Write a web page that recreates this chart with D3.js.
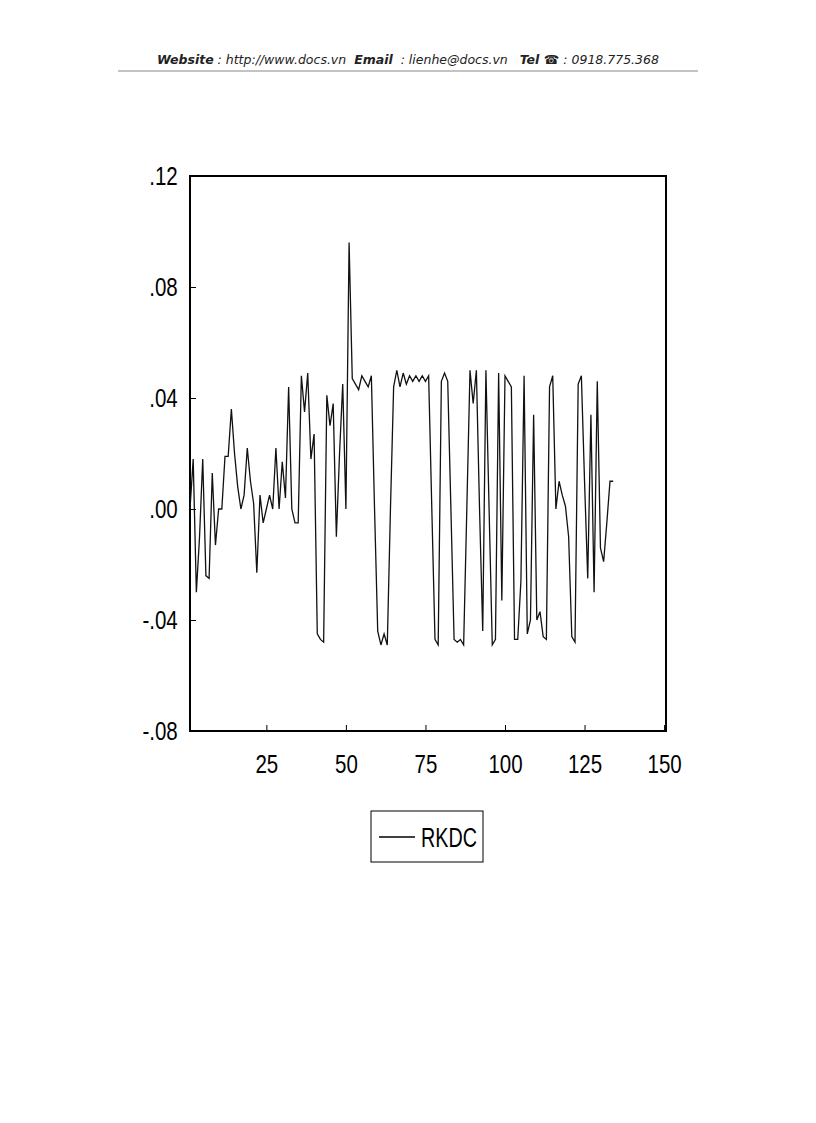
<!DOCTYPE html>
<html><head><meta charset="utf-8">
<script src="https://cdn.jsdelivr.net/npm/d3@7"></script>
<style>body{margin:0;background:#fff}</style>
</head><body>
<script>
const rkdc = [
  0.000, 0.018, -0.030, -0.010, 0.018, -0.024, -0.025, 0.013, -0.013, 0.000,
  0.000, 0.019, 0.019, 0.036, 0.020, 0.008, 0.000, 0.005, 0.022, 0.010,
  0.002, -0.023, 0.005, -0.005, 0.000, 0.005, 0.000, 0.022, 0.000, 0.017,
  0.004, 0.044, 0.000, -0.005, -0.005, 0.048, 0.035, 0.049, 0.018, 0.027,
  -0.045, -0.047, -0.048, 0.041, 0.030, 0.038, -0.010, 0.020, 0.045, 0.000,
  0.096, 0.047, 0.045, 0.043, 0.048, 0.046, 0.044, 0.048, 0.000, -0.044,
  -0.049, -0.045, -0.049, 0.000, 0.044, 0.050, 0.044, 0.049, 0.045, 0.048,
  0.046, 0.048, 0.046, 0.048, 0.046, 0.048, 0.000, -0.047, -0.049, 0.046,
  0.049, 0.046, 0.000, -0.047, -0.048, -0.047, -0.049, 0.000, 0.050, 0.038,
  0.050, 0.000, -0.044, 0.050, 0.000, -0.049, -0.047, 0.049, -0.033, 0.048,
  0.046, 0.044, -0.047, -0.047, -0.026, 0.048, -0.045, -0.040, 0.034, -0.040,
  -0.037, -0.046, -0.047, 0.044, 0.048, 0.000, 0.010, 0.005, 0.001, -0.010,
  -0.046, -0.048, 0.045, 0.048, 0.010, -0.025, 0.034, -0.030, 0.046, -0.014,
  -0.019, -0.005, 0.010, 0.010
];
const xTicks = [25, 50, 75, 100, 125, 150];
const yTicks = [-0.08, -0.04, 0.00, 0.04, 0.08, 0.12];

const svg = d3.select('body').append('svg').attr('width', 816).attr('height', 1123);
const font = 'Liberation Sans, Arial, sans-serif';

// header
const head = svg.append('text').attr('x', 408).attr('y', 64).attr('text-anchor', 'middle')
  .attr('font-family', 'Verdana, DejaVu Sans, sans-serif').attr('font-size', 12.5)
  .attr('font-style', 'italic').attr('fill', '#222').attr('xml:space', 'preserve');
[['Website', true], [' : http://www.docs.vn  ', false], ['Email', true], ['  : lienhe@docs.vn   ', false],
 ['Tel ', true], ['\u260E', true], [' : 0918.775.368', false]]
  .forEach(([t, b]) => head.append('tspan').attr('font-weight', b ? 'bold' : 'normal').text(t));
svg.append('line').attr('x1', 118).attr('x2', 698).attr('y1', 71).attr('y2', 71)
  .attr('stroke', '#888').attr('stroke-width', 1);

const pL = 190, pR = 666, pT = 176, pB = 731;
const x = d3.scaleLinear().domain([1, 150.6]).range([pL, pR]);
const y = d3.scaleLinear().domain([-0.08, 0.12]).range([pB, pT]);

const g = svg.append('g');
g.append('rect').attr('x', pL).attr('y', pT).attr('width', pR - pL).attr('height', pB - pT)
  .attr('fill', 'none').attr('stroke', '#000').attr('stroke-width', 2);

const fmt = d => d3.format('.2f')(d).replace('0.', '.').replace('\u2212', '-');
const yAxis = g.append('g').attr('transform', `translate(${pL},0)`)
  .call(d3.axisLeft(y).tickValues(yTicks).tickSize(-6).tickPadding(15).tickFormat(fmt));
const xAxis = g.append('g').attr('transform', `translate(0,${pB})`)
  .call(d3.axisBottom(x).tickValues(xTicks).tickSize(-6).tickPadding(20));
[yAxis, xAxis].forEach(a => {
  a.select('.domain').remove();
  a.selectAll('text').attr('font-family', font).attr('font-size', 25).attr('fill', '#000')
    .attr('transform', 'scale(0.82,1)');
});
yAxis.selectAll('text').attr('dy', '0.35em');
xAxis.selectAll('text').attr('dy', '0.9em');

g.append('path').datum(rkdc)
  .attr('d', d3.line().x((d, i) => x(i + 1)).y(d => y(d)))
  .attr('fill', 'none').attr('stroke', '#111').attr('stroke-width', 1.3);

// legend
const lg = svg.append('g');
lg.append('rect').attr('x', 371).attr('y', 811).attr('width', 112).attr('height', 51)
  .attr('fill', 'none').attr('stroke', '#000').attr('stroke-width', 1);
lg.append('line').attr('x1', 379).attr('x2', 415).attr('y1', 837).attr('y2', 837).attr('stroke', '#000').attr('stroke-width', 1.3);
lg.append('text').attr('x', 421).attr('y', 847).attr('font-family', font)
  .attr('font-size', 27).attr('textLength', 56).attr('lengthAdjust', 'spacingAndGlyphs').text('RKDC');
</script>
</body></html>
